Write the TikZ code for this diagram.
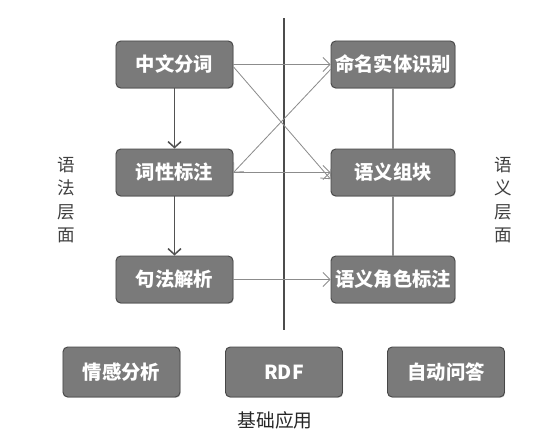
\documentclass[tikz,border=0pt]{standalone}
\usepackage{fontspec}
\setmainfont{Noto Sans CJK SC}
\usetikzlibrary{arrows.meta, shadows}
\colorlet{BoxFill}{black!52}
\colorlet{BoxBorder}{black!72}
\colorlet{LinkLine}{black!45}
\colorlet{StepLine}{black!68}
\tikzset{
    task box/.style={
        draw=BoxBorder, fill=BoxFill, rounded corners=4pt, line width=0.8pt,
        text=white, font=\fontsize{16.5pt}{18pt}\selectfont\bfseries,
        minimum width=3.51cm, minimum height=1.41cm, inner sep=0pt,
        drop shadow={opacity=0.35, shadow xshift=0.6pt, shadow yshift=-0.8pt}
    },
    wide box/.style={task box, minimum width=3.72cm},
    app box/.style={task box, minimum height=1.5cm},
    side label/.style={align=center, text=black!75, font=\fontsize{15pt}{20pt}\selectfont},
    link arrow/.style={draw=LinkLine, line width=0.7pt, -{Straight Barb[length=6pt, width=12pt]}},
    step arrow/.style={draw=StepLine, line width=1.3pt, -{Straight Barb[length=5pt, width=11pt]}},
    plain link/.style={draw=LinkLine, line width=1.3pt}
}

\begin{document}
\begin{tikzpicture}[x=0.03cm, y=-0.03cm]

\useasboundingbox (0,0) rectangle (558,447);

% Linea divisoria entre los dos niveles.
\coordinate (DividerTop) at (284, 18);
\coordinate (DividerBottom) at (284, 330);
\draw[draw=black!70, line width=1pt] (DividerTop) -- (DividerBottom);

% Nivel sintactico.
\node[task box] (WordSeg) at (174.5, 64.5) {中文分词};
\node[task box] (PosTag) at (174.5, 172.5) {词性标注};
\node[task box] (Parsing) at (174.5, 279.5) {句法解析};

% Nivel semantico.
\node[wide box] (NER) at (393, 64.5) {命名实体识别};
\node[wide box] (Chunk) at (393, 172.5) {语义组块};
\node[wide box] (SRL) at (393, 279.5) {语义角色标注};

% Aplicaciones basicas.
\node[app box] (Sentiment) at (121.5, 372) {情感分析};
\node[app box] (Rdf) at (284, 372) {RDF};
\node[app box] (QA) at (446, 372) {自动问答};

% Nombres de los niveles.
\node[side label] (SyntaxLevel) at (66, 200) {语\\法\\层\\面};
\node[side label] (SemanticLevel) at (503, 200) {语\\义\\层\\面};
\node[side label, text=black!85, font=\fontsize{16pt}{18pt}\selectfont] (BaseApps) at (275, 420) {基础应用};

% Flechas del nivel sintactico.
\draw[step arrow] (WordSeg) -- (PosTag);
\draw[step arrow] (PosTag) -- (Parsing);

% Enlaces entre niveles.
\draw[link arrow] (WordSeg.east) -- (NER.west);
\draw[link arrow] ([yshift=-2pt]WordSeg.east) -- ([yshift=-0.2cm]Chunk.west);
\draw[link arrow] ([yshift=-0.15cm]NER.west) -- (PosTag.east);
\draw[link arrow] (PosTag.east) -- (Chunk.west);
\draw[link arrow] (Parsing.east) -- (SRL.west);

% Enlaces del nivel semantico.
\draw[plain link] (NER) -- (Chunk);
\draw[plain link] (Chunk) -- (SRL);

\end{tikzpicture}
\end{document}
